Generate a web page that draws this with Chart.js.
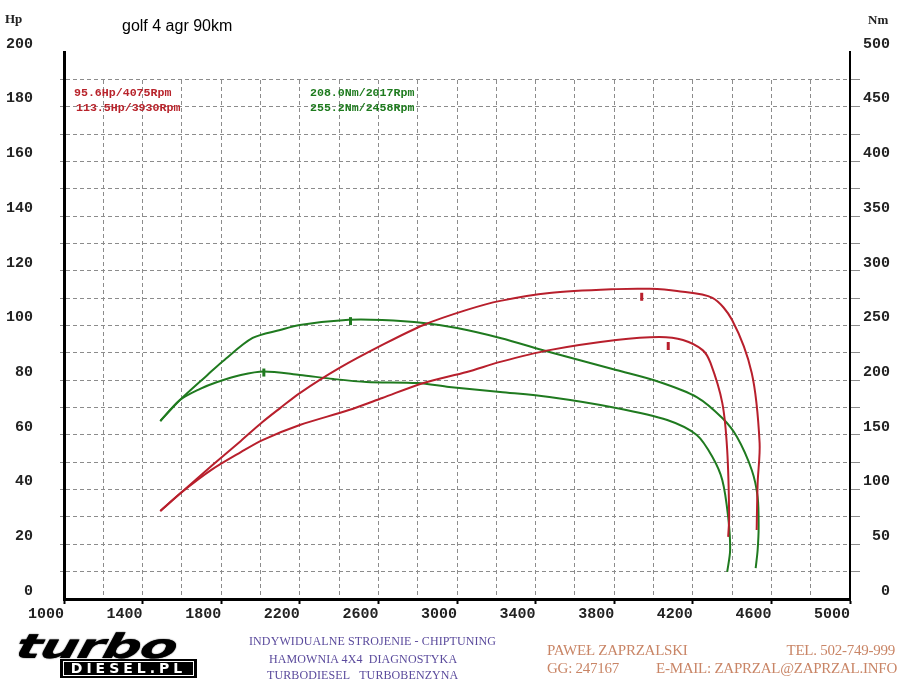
<!DOCTYPE html>
<html>
<head>
<meta charset="utf-8">
<script src="https://cdn.jsdelivr.net/npm/chart.js@4"></script>
<style>
body{margin:0;background:#fff}
#wrap{position:relative;width:901px;height:684px;overflow:hidden}
.t{position:absolute;white-space:nowrap;line-height:1}
.leg{font:bold 11.6px "Liberation Mono",monospace}
.mid{font:12px "Liberation Serif",serif;color:#5a4a9c;letter-spacing:0.1px}
.rt{font:15px "Liberation Serif",serif;color:#c98566;letter-spacing:-0.25px}
</style>
</head>
<body>
<div id="wrap">
<canvas id="dyno" width="901" height="684"></canvas>
<div class="t" style="left:5px;top:11px;font:bold 13px 'Liberation Serif',serif;color:#222">Hp</div>
<div class="t" style="left:868px;top:12px;font:bold 13px 'Liberation Serif',serif;color:#222">Nm</div>
<div class="t" style="left:122px;top:17px;font:16px 'Liberation Sans',Arial,sans-serif;color:#000">golf 4 agr 90km</div>
<div class="t leg" id="hp0" style="left:74px;top:86px;color:#b8232b"></div>
<div class="t leg" id="hp1" style="left:76px;top:101px;color:#b8232b"></div>
<div class="t leg" id="nm0" style="left:310px;top:86px;color:#1e7b1e"></div>
<div class="t leg" id="nm1" style="left:310px;top:101px;color:#1e7b1e"></div>

<div class="t" style="left:21px;top:626px;font:italic 900 34px 'DejaVu Sans',sans-serif;color:#000;transform:scaleX(1.6) skewX(-8deg);transform-origin:left top;letter-spacing:-1px;text-shadow:0 0 1px #000">turbo</div>
<div class="t" style="left:60px;top:659px;width:137px;height:19px;background:#000"></div>
<div class="t" style="left:63px;top:661px;width:129px;height:13px;border:1px solid #fff;color:#fff;font:900 14px 'DejaVu Sans',sans-serif;letter-spacing:4px;text-align:center;line-height:13px">DIESEL.PL</div>

<div class="t mid" style="left:249px;top:634px">INDYWIDUALNE STROJENIE - CHIPTUNING</div>
<div class="t mid" style="left:269px;top:652px">HAMOWNIA 4X4&nbsp; DIAGNOSTYKA</div>
<div class="t mid" style="left:267px;top:668px">TURBODIESEL&nbsp;&nbsp; TURBOBENZYNA</div>

<div class="t rt" style="left:547px;top:642px">PAWEŁ ZAPRZALSKI</div>
<div class="t rt" style="right:6px;top:642px">TEL. 502-749-999</div>
<div class="t rt" style="left:547px;top:660px">GG: 247167</div>
<div class="t rt" style="right:4px;top:660px">E-MAIL: ZAPRZAL@ZAPRZAL.INFO</div>
</div>

<script>
// power curves (Hp, left axis)
const hpTunedRpm = [1490,1600,1750,1900,2010,2100,2200,2400,2620,2830,3050,3220,3470,3810,3980,4120,4300,4400,4500,4540,4530,4525]
const hpTuned    = [32.2,39.1,48.6,57.8,64.7,69.8,75.3,84.4,92.9,100.2,105.7,109.0,111.9,113.3,113.4,112.6,110.1,102.0,82.6,57.0,42.4,25.2]
const hpStockRpm = [1490,1600,1750,1900,2010,2200,2450,2620,2830,3050,3220,3470,3810,4030,4150,4250,4290,4350,4375,4385,4380]
const hpStock    = [32.2,39.1,47.2,53.7,58.1,63.6,69.1,73.5,79.0,83.0,86.7,91.0,94.7,95.8,94.7,91.0,86.3,71.7,54.5,30.0,22.7]

// torque curves (Nm, right axis)
const nmTunedRpm = [1490,1590,1730,1810,1960,2100,2200,2450,2620,2830,3000,3220,3470,3810,4030,4220,4350,4425,4500,4530,4535,4530,4520]
const nmTuned    = [162.7,181.9,204.8,217.6,238.6,245.9,250.5,255.2,255.0,252.3,247.7,238.6,225.8,209.3,198.4,184.6,165.4,148.1,117.9,93.2,65.8,44.8,28.3]
const nmStockRpm = [1490,1590,1690,1780,1900,2017,2200,2370,2540,2800,2960,3220,3470,3810,4070,4220,4300,4350,4380,4390,4375]
const nmStock    = [162.7,181.9,191.9,198.4,204.8,208.0,204.8,201.1,198.4,197.4,193.8,189.2,184.6,174.6,163.6,149.9,129.8,108.8,75.0,44.8,24.7]

// peak markers
const hpPeakRpm = [3940,4075]
const hpPeakVal = [110.5,92.5]
const nmPeakRpm = [2458,2017]
const nmPeakVal = [254,207]

const hpLabels = ["95.6Hp/4075Rpm","113.5Hp/3930Rpm"]
const nmLabels = ["208.0Nm/2017Rpm","255.2Nm/2458Rpm"]

document.getElementById("hp0").textContent = hpLabels[0]
document.getElementById("hp1").textContent = hpLabels[1]
document.getElementById("nm0").textContent = nmLabels[0]
document.getElementById("nm1").textContent = nmLabels[1]

const RED = "#b81f2c"
const GREEN = "#1f7a1f"
const GRID = "#8c8c8c"
const NONE = "rgba(0,0,0,0)"
const tickFont = {family:"'Liberation Mono', monospace", size:15, weight:"bold"}

function pts(xs, ys){
  return xs.map((x,i)=>({x:x, y:ys[i]}))
}

function curve(xs, ys, color, axis){
  return {data:pts(xs,ys), yAxisID:axis, borderColor:color, borderWidth:2,
    pointRadius:0, tension:0.3, fill:false}
}

function marks(xs, ys, color, axis){
  return {data:pts(xs,ys), yAxisID:axis, showLine:false, borderColor:color,
    backgroundColor:color, pointStyle:"line", rotation:90, pointRadius:4, pointBorderWidth:3}
}

// the top row of the grid (190-200 Hp) has no vertical lines
const topBand = {
  id:"topBand",
  beforeDatasetsDraw(chart){
    const a = chart.chartArea
    const yb = chart.scales.y.getPixelForValue(190)
    const ctx = chart.ctx
    ctx.save()
    ctx.fillStyle = "#fff"
    ctx.fillRect(a.left + 2, a.top, a.right - a.left - 3, yb - a.top - 1)
    ctx.restore()
  }
}

new Chart(document.getElementById("dyno"), {
  type:"line",
  data:{
    datasets:[
      curve(hpTunedRpm, hpTuned, RED, "y"),
      curve(hpStockRpm, hpStock, RED, "y"),
      curve(nmTunedRpm, nmTuned, GREEN, "y2"),
      curve(nmStockRpm, nmStock, GREEN, "y2"),
      marks(hpPeakRpm, hpPeakVal, RED, "y"),
      marks(nmPeakRpm, nmPeakVal, GREEN, "y2")
    ]
  },
  plugins:[topBand],
  options:{
    responsive:false,
    animation:false,
    layout:{padding:{left:0, right:11, top:52, bottom:0}},
    plugins:{legend:{display:false}, tooltip:{enabled:false}},
    scales:{
      x:{
        type:"linear", min:1000, max:5000,
        afterFit:s=>{ s.height = 85 },
        ticks:{stepSize:200, autoSkip:false, maxRotation:0, align:"end", padding:1,
          color:"#222", font:tickFont,
          callback:v=> (v - 1000) % 400 === 0 ? v : ""},
        grid:{
          color:c=> (c.tick && (c.tick.value === 1000 || c.tick.value === 5000)) ? NONE : GRID,
          lineWidth:1, tickLength:5, tickBorderDash:[], tickWidth:2,
          tickColor:c=> (c.tick && (c.tick.value - 1000) % 400 === 200) ? NONE : "#000"
        },
        border:{color:"#000", width:3, dash:[4,3]}
      },
      y:{
        position:"left", min:0, max:200,
        afterFit:s=>{ s.width = 64 },
        ticks:{stepSize:10, autoSkip:false, padding:27, labelOffset:-8,
          color:"#222", font:tickFont,
          callback:v=> v % 20 === 0 ? v : ""},
        grid:{
          color:c=> (c.tick && (c.tick.value === 0 || c.tick.value === 200)) ? NONE : GRID,
          lineWidth:1, tickLength:4
        },
        border:{color:"#000", width:3, dash:[4,3]}
      },
      y2:{
        position:"right", min:0, max:500,
        afterFit:s=>{ s.width = 40 },
        ticks:{stepSize:25, autoSkip:false, padding:3, labelOffset:-8, crossAlign:"far",
          color:"#222", font:tickFont,
          callback:v=> v % 50 === 0 ? v : ""},
        grid:{
          drawOnChartArea:false,
          color:c=> (c.tick && (c.tick.value === 0 || c.tick.value === 500)) ? NONE : GRID,
          lineWidth:1, tickLength:10
        },
        border:{color:"#000", width:2, dash:[4,3]}
      }
    }
  }
})
</script>
</body>
</html>
